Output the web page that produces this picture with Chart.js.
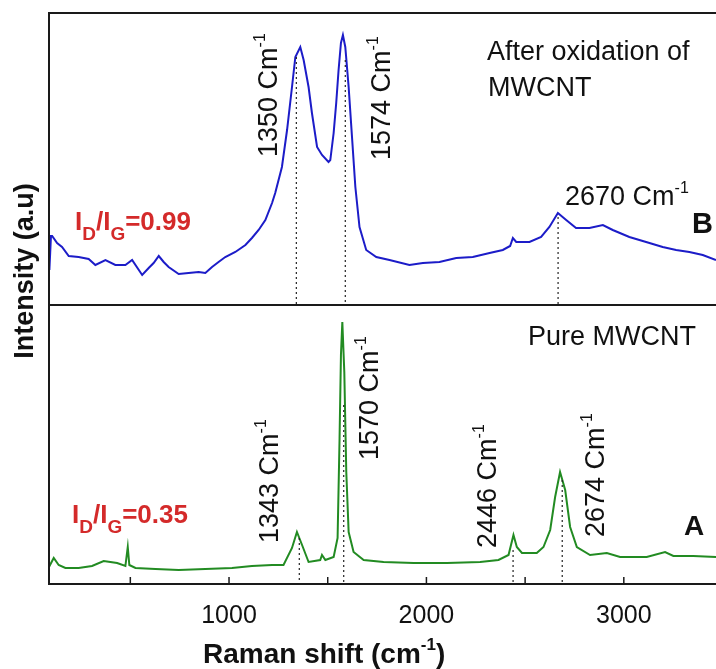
<!DOCTYPE html>
<html><head><meta charset="utf-8">
<script src="https://cdn.jsdelivr.net/npm/chart.js@4.4.0/dist/chart.umd.min.js"></script>
<style>html,body{margin:0;padding:0;background:#fff;}canvas{display:block;}</style>
</head><body>
<canvas id="c" width="716" height="669"></canvas>
<script>
// ---- Data ----
// B: after oxidation of MWCNT (upper panel)
const oxidizedShift = [90,98,104,129,154,188,238,289,323,374,424,475,509,560,593,618,644,669,694,745,795,846,880,914,947,981,1032,1083,1116,1150,1184,1218,1234,1268,1294,1319,1336,1361,1378,1403,1420,1446,1471,1504,1513,1530,1543,1555,1567,1577,1589,1606,1623,1640,1661,1695,1746,1813,1914,1982,2066,2151,2235,2320,2387,2424,2438,2455,2522,2581,2623,2666,2708,2758,2826,2894,2944,3028,3113,3197,3265,3332,3400,3467];
const oxidizedIntensity = [35,69,69,62,58,49,48,46,40,45,40,40,45,30,37,42,49,43,38,31,32,33,32,38,43,48,53,60,67,75,85,102,112,138,175,218,248,258,245,218,192,158,150,143,145,172,202,235,262,270,258,218,168,118,78,55,48,45,40,42,43,47,48,52,55,59,67,63,63,68,78,92,85,77,77,80,75,68,63,58,55,53,50,45];
// A: pure MWCNT (lower panel)
const pureShift = [88,112,137,171,238,306,365,399,433,475,487,495,526,627,745,880,1015,1116,1218,1276,1319,1344,1370,1403,1462,1471,1488,1530,1550,1560,1567,1574,1584,1594,1606,1631,1682,1783,1935,2104,2272,2365,2416,2441,2458,2484,2559,2593,2627,2652,2677,2703,2728,2762,2829,2914,2981,3116,3209,3251,3352,3467];
const pureIntensity = [17,26,19,16,16,18,23,22,21,18,37,19,16,15,14,15,16,18,19,19,36,52,39,22,24,29,24,27,46,146,229,262,212,112,52,32,24,22,21,21,22,24,29,49,37,31,31,37,54,87,112,94,57,37,29,31,27,27,32,28,28,27];
// Axis ticks
const xTickValues = [500, 1000, 1500, 2000, 2500, 3000, 3500];
const xTickLabels = ['', '1000', '', '2000', '', '3000', ''];
// Dotted peak markers (wavenumber, intensity where the marker starts)
const oxidizedMarkShift = [1341, 1589, 2667];
const oxidizedMarkTop = [248, 245, 88];
const pureMarkShift = [1356, 1581, 2439, 2688];
const pureMarkTop = [46, 179, 34, 104];
// Peak label texts
const oxidizedPeakLabels = ['1350', '1574', '2670'];
const purePeakLabels = ['1343', '1570', '2446', '2674'];

const X_MIN = 88, X_MAX = 3467;
const FONT = '"Liberation Sans", Arial, Helvetica, sans-serif';
const INK = '#111';
const RED = '#d42a2a';

function rich(ctx, x, y, parts, rotated) {
  ctx.save();
  ctx.translate(x, y);
  if (rotated) ctx.rotate(-Math.PI / 2);
  ctx.textAlign = 'left';
  ctx.textBaseline = 'alphabetic';
  let cx = 0;
  for (const p of parts) {
    ctx.font = (p.bold ? 'bold ' : '') + p.size + 'px ' + FONT;
    ctx.fillStyle = p.color || INK;
    ctx.fillText(p.text, cx, p.dy || 0);
    cx += ctx.measureText(p.text).width;
  }
  ctx.restore();
}
function cm(num, size) {
  return [{text: num + ' Cm', size: size}, {text: '-1', size: 16, dy: -12}];
}
function ratio(val) {
  return [
    {text: 'I', size: 26, bold: true, color: RED}, {text: 'D', size: 19, bold: true, color: RED, dy: 10},
    {text: '/I', size: 26, bold: true, color: RED}, {text: 'G', size: 19, bold: true, color: RED, dy: 10},
    {text: '=' + val, size: 26, bold: true, color: RED}];
}

const decor = {
  id: 'decor',
  afterDraw(chart) {
    const {ctx, chartArea: a, scales} = chart;
    const x = scales.x, yT = scales.yTop, yB = scales.yBottom;
    ctx.save();
    // dotted peak markers
    ctx.strokeStyle = '#222';
    ctx.lineWidth = 1.2;
    ctx.setLineDash([2, 3]);
    oxidizedMarkShift.forEach((v, i) => {
      const px = x.getPixelForValue(v);
      ctx.beginPath();
      ctx.moveTo(px, yT.getPixelForValue(oxidizedMarkTop[i]));
      ctx.lineTo(px, yT.getPixelForValue(0));
      ctx.stroke();
    });
    pureMarkShift.forEach((v, i) => {
      const px = x.getPixelForValue(v);
      ctx.beginPath();
      ctx.moveTo(px, yB.getPixelForValue(pureMarkTop[i]));
      ctx.lineTo(px, yB.getPixelForValue(0));
      ctx.stroke();
    });
    ctx.setLineDash([]);
    // frame (right side is cut off in the reference)
    ctx.strokeStyle = '#1a1a1a';
    ctx.lineWidth = 2;
    ctx.beginPath();
    ctx.moveTo(a.right + 2, a.top); ctx.lineTo(a.left, a.top);
    ctx.lineTo(a.left, a.bottom); ctx.lineTo(a.right + 2, a.bottom);
    ctx.moveTo(a.left, yB.top); ctx.lineTo(a.right + 2, yB.top);
    ctx.stroke();
    // inward ticks
    ctx.lineWidth = 1.5;
    xTickValues.forEach(v => {
      const px = x.getPixelForValue(v);
      if (px < a.left || px > a.right) return;
      ctx.beginPath(); ctx.moveTo(px, a.bottom); ctx.lineTo(px, a.bottom - 7); ctx.stroke();
    });
    // axis titles
    rich(ctx, 203, 663, [{text: 'Raman shift (cm', size: 28, bold: true}, {text: '-1', size: 17, bold: true, dy: -13}, {text: ')', size: 28, bold: true}]);
    ctx.save();
    ctx.translate(33, 271); ctx.rotate(-Math.PI / 2);
    ctx.font = 'bold 27px ' + FONT; ctx.fillStyle = INK; ctx.textAlign = 'center'; ctx.textBaseline = 'alphabetic';
    ctx.fillText('Intensity (a.u)', 0, 0);
    ctx.restore();
    // upper panel texts
    rich(ctx, 277, 157, cm(oxidizedPeakLabels[0], 27), true);
    rich(ctx, 390, 160, cm(oxidizedPeakLabels[1], 27), true);
    rich(ctx, 565, 205, cm(oxidizedPeakLabels[2], 27));
    rich(ctx, 487, 60, [{text: 'After oxidation of', size: 27}]);
    rich(ctx, 488, 96, [{text: 'MWCNT', size: 27}]);
    rich(ctx, 692, 233, [{text: 'B', size: 29, bold: true}]);
    rich(ctx, 75, 230, ratio('0.99'));
    // lower panel texts
    rich(ctx, 278, 543, cm(purePeakLabels[0], 27), true);
    rich(ctx, 378, 460, cm(purePeakLabels[1], 27), true);
    rich(ctx, 496, 548, cm(purePeakLabels[2], 27), true);
    rich(ctx, 604, 537, cm(purePeakLabels[3], 27), true);
    rich(ctx, 528, 345, [{text: 'Pure MWCNT', size: 27}]);
    rich(ctx, 684, 535, [{text: 'A', size: 28, bold: true}]);
    rich(ctx, 72, 523, ratio('0.35'));
    ctx.restore();
  }
};

const hiddenY = (extra) => Object.assign({
  type: 'linear', position: 'left', stack: 'panels', display: true,
  ticks: {display: false}, grid: {display: false, drawTicks: false}, border: {display: false}
}, extra);

new Chart(document.getElementById('c'), {
  type: 'line',
  data: {
    datasets: [
      {label: 'After oxidation of MWCNT', data: oxidizedShift.map((v, i) => ({x: v, y: oxidizedIntensity[i]})),
       yAxisID: 'yTop', borderColor: '#1c1cc8', borderWidth: 2, pointRadius: 0, tension: 0},
      {label: 'Pure MWCNT', data: pureShift.map((v, i) => ({x: v, y: pureIntensity[i]})),
       yAxisID: 'yBottom', borderColor: '#228b22', borderWidth: 2, pointRadius: 0, tension: 0}
    ]
  },
  options: {
    responsive: false, animation: false,
    layout: {padding: {left: 49, top: 13, right: 0, bottom: 21}},
    plugins: {legend: {display: false}, tooltip: {enabled: false}},
    scales: {
      x: {
        type: 'linear', position: 'bottom', min: X_MIN, max: X_MAX,
        grid: {display: false, drawTicks: false}, border: {display: false},
        afterBuildTicks: axis => { axis.ticks = xTickValues.filter(v => v <= X_MAX).map(v => ({value: v})); },
        ticks: {autoSkip: false, maxRotation: 0, padding: 17, color: INK, font: {size: 25, family: FONT},
          callback: (v) => xTickLabels[xTickValues.indexOf(v)] || ''}
      },
      yBottom: hiddenY({min: 0, max: 279, stackWeight: 279}),
      yTop: hiddenY({min: 0, max: 292, stackWeight: 292})
    }
  },
  plugins: [decor]
});
</script>
</body></html>
